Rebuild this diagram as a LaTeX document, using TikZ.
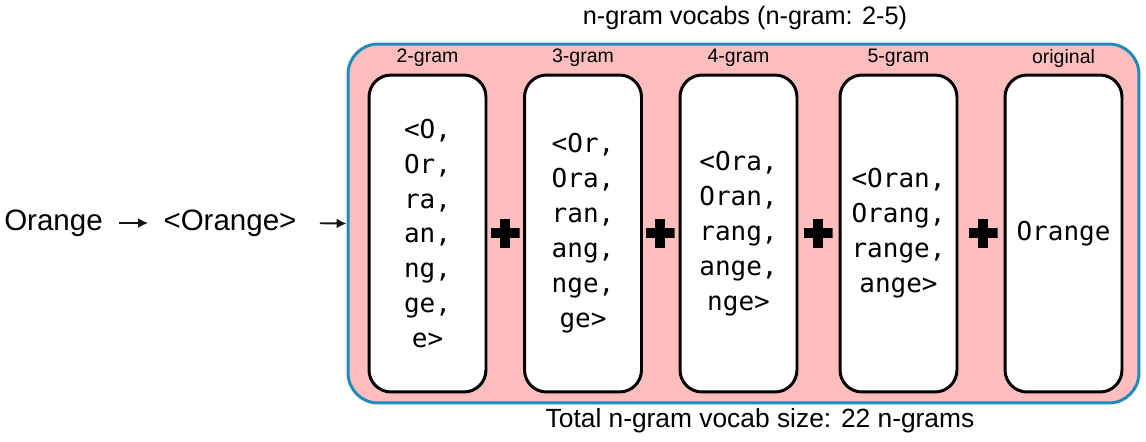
\documentclass[tikz,border=0pt]{standalone}
\usepackage{fontspec}
\setmainfont{Liberation Sans}
\newfontfamily\codefont{DejaVu Sans Mono}
\usetikzlibrary{positioning,arrows.meta}
\definecolor{ngBlue}{RGB}{31,139,189}
\definecolor{ngPink}{RGB}{255,190,190}
\definecolor{ngGray}{RGB}{20,20,20}
\tikzset{
    base/.style={font=\fontsize{16.8}{20}\selectfont, align=center, inner sep=0pt},
    caption/.style={base, font=\fontsize{14.4}{17}\selectfont},
    gramlabel/.style={base, font=\fontsize{11.1}{13}\selectfont},
    vocab/.style={rectangle, rounded corners=6mm, draw=ngBlue, line width=1.7pt,
                  fill=ngPink, minimum width=15.82cm, minimum height=7.18cm},
    gram/.style={rectangle, rounded corners=4.4mm, draw=black, line width=1.7pt,
                 fill=white, minimum width=2.34cm, minimum height=6.34cm,
                 align=center, font=\codefont\fontsize{14.8}{19.9}\selectfont},
    plussign/.style={minimum size=5.8mm, inner sep=0pt, path picture={
        \fill ([xshift=-1mm]path picture bounding box.north) rectangle ([xshift=1mm]path picture bounding box.south);
        \fill ([yshift=-1mm]path picture bounding box.west) rectangle ([yshift=1mm]path picture bounding box.east);}},
    flow/.style={-{Latex[length=2mm,width=2mm]}, line width=1.1pt, color=ngGray}
}
\begin{document}
\begin{tikzpicture}[x=0.02cm, y=-0.02cm]
  \useasboundingbox (0,0) rectangle (1146,441);
  \node[base] (word) at (53.5,223) {Orange};
  \node[base] (bounded) at (230,223) {<Orange>};
  \node[vocab] (vocab) at (743.5,223.5) {};
  \node[caption] (title) at (745,18) {n-gram vocabs (n-gram: 2-5)};
  \node[caption, font=\fontsize{15}{17}\selectfont] (total) at (760,421) {Total n-gram vocab size: 22 n-grams};

  % n-gram boxes
  \node[gram] (g2) at (427.5,233.5) {<O,\\Or,\\ra,\\an,\\ng,\\ge,\\e>};
  \node[gram] (g3) at (583,233.5) {<Or,\\Ora,\\ran,\\ang,\\nge,\\ge>};
  \node[gram] (g4) at (738.5,233.5) {<Ora,\\Oran,\\rang,\\ange,\\nge>};
  \node[gram] (g5) at (898.5,233.5) {<Oran,\\Orang,\\range,\\ange>};
  \node[gram] (orig) at (1063.5,233.5) {Orange};

  \node[gramlabel] (l2) at (427.5,58) {2-gram};
  \node[gramlabel] (l3) at (583,58) {3-gram};
  \node[gramlabel] (l4) at (738.5,58) {4-gram};
  \node[gramlabel] (l5) at (898.5,58) {5-gram};
  \node[gramlabel] (lorig) at (1063.5,58) {original};

  \node[plussign] (p1) at (505,233) {};
  \node[plussign] (p2) at (660,233) {};
  \node[plussign] (p3) at (818,233) {};
  \node[plussign] (p4) at (983,233) {};

  \draw[flow, shorten <=0.32cm, shorten >=0.3cm] (word.east) -- (bounded.west);
  \draw[flow, shorten <=0.46cm] (bounded.east) -- (vocab.west);
\end{tikzpicture}
\end{document}
